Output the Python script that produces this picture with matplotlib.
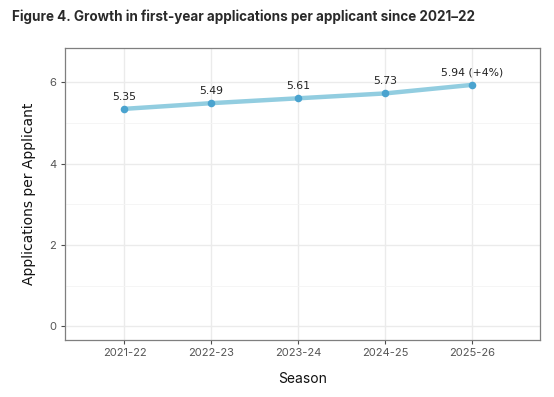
import matplotlib
matplotlib.use("Agg")
import matplotlib.pyplot as plt
from matplotlib.ticker import MultipleLocator

seasons = ["2021-22", "2022-23", "2023-24", "2024-25", "2025-26"]
values = [5.35, 5.49, 5.61, 5.73, 5.94]
labels = ["5.35", "5.49", "5.61", "5.73", "5.94 (+4%)"]
title = "Figure 4. Growth in first-year applications per applicant since 2021\u201322"

fig = plt.figure(figsize=(5.54, 3.97), dpi=100)
W, H = 554, 397
left, right, top, bottom = 64.5, 540, 47.5, 339.5
ax = fig.add_axes([left / W, 1 - bottom / H, (right - left) / W, (bottom - top) / H])

x = list(range(len(seasons)))
ax.plot(x, values, color="#92CDE0", lw=3.2, solid_capstyle="round", zorder=3)
ax.scatter(x, values, s=30, color="#4AA3CF", zorder=4, linewidths=0)
for xi, v, lab in zip(x, values, labels):
    ax.annotate(lab, (xi, v), xytext=(0, 5), textcoords="offset points",
                ha="center", va="bottom", fontsize=7.8, color="#222222",
                family="DejaVu Sans")

ax.set_xlim(-0.69, 4.78)
ax.set_ylim(-0.327, 6.86)
ax.set_xticks(x)
ax.set_xticklabels(seasons)
ax.yaxis.set_major_locator(MultipleLocator(2))
ax.yaxis.set_minor_locator(MultipleLocator(1))
ax.grid(True, which="major", color="#EBEBEB", lw=1.0, zorder=0)
ax.grid(True, which="minor", axis="y", color="#F4F4F4", lw=0.6, zorder=0)
ax.set_axisbelow(True)
for s in ax.spines.values():
    s.set_color("#7F7F7F")
    s.set_linewidth(0.9)
ax.tick_params(which="major", length=3, width=0.8, color="#4D4D4D",
               labelcolor="#555555", labelsize=8, pad=3)
ax.tick_params(which="minor", length=0)
for t in ax.get_xticklabels() + ax.get_yticklabels():
    t.set_family("Inter")

ax.set_xlabel("Season", fontsize=10, color="#111111", labelpad=10, family="Inter")
ax.set_ylabel("Applications per Applicant", fontsize=10, color="#111111",
              labelpad=9, family="DejaVu Sans")

fig.text(12 / W, 1 - 17 / H, title, fontsize=9.7, fontweight="bold",
         color="#2a2a2a", ha="left", va="center", family="Inter")

fig.savefig("out.png", dpi=100)
